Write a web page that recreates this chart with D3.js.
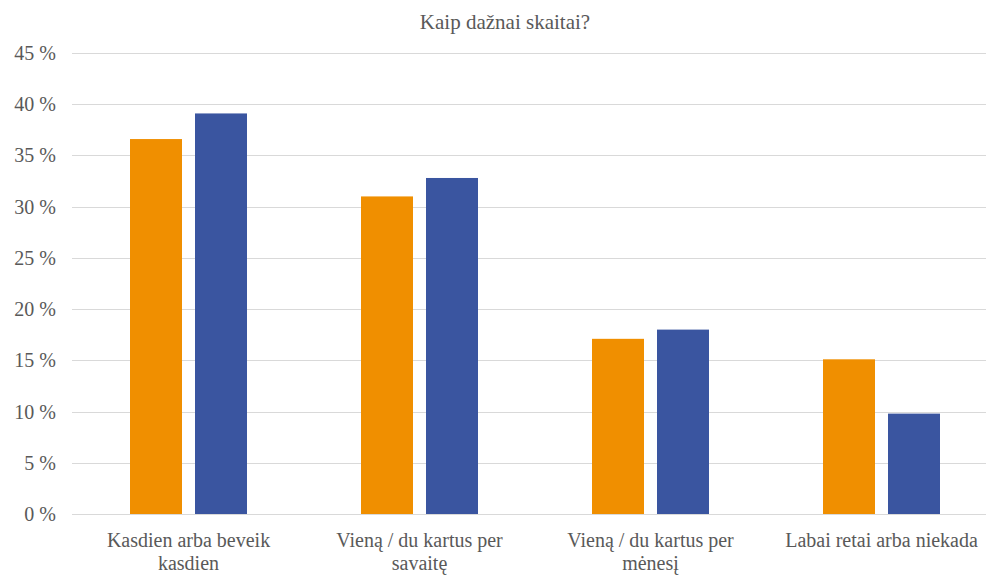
<!DOCTYPE html>
<html>
<head>
<meta charset="utf-8">
<script src="https://cdn.jsdelivr.net/npm/d3@7"></script>
<style>
  body { margin: 0; background: #fff; }
  svg { display: block; }
  text { font-family: "Liberation Serif", "DejaVu Serif", "Times New Roman", serif; }
</style>
</head>
<body>
<div id="chart"></div>
<script>
// data
let categories = [
    ["Kasdien arba beveik", "kasdien"],
    ["Vieną / du kartus per", "savaitę"],
    ["Vieną / du kartus per", "mėnesį"],
    ["Labai retai arba niekada"]
];
let seriesA = [36.6, 31.0, 17.1, 15.1];
let seriesB = [39.1, 32.8, 18.0, 9.8];
let yTicks = [0, 5, 10, 15, 20, 25, 30, 35, 40, 45];

let margin = { top: 53, right: -11, bottom: 61, left: 73 },
    width = 986 - margin.left - margin.right,
    height = 575 - margin.top - margin.bottom;

let svg = d3.select("#chart")
    .append("svg")
    .attr("width", 986)
    .attr("height", 575);

svg.append("text")
    .attr("x", 505)
    .attr("y", 29)
    .attr("text-anchor", "middle")
    .attr("fill", "#595959")
    .style("font-size", "21px")
    .text("Kaip dažnai skaitai?");

let g = svg.append("g")
    .attr("transform", "translate(" + margin.left + "," + margin.top + ")");

let x = d3.scaleBand()
    .domain(d3.range(categories.length))
    .range([0, width]);

let sub = d3.scaleBand()
    .domain(["a", "b"])
    .range([0, 117])
    .paddingInner(0.2);

let y = d3.scaleLinear()
    .domain([0, 45])
    .range([height, 0]);

// grid
g.selectAll(".grid")
    .data(yTicks)
    .enter()
    .append("line")
    .attr("x1", -1)
    .attr("x2", width)
    .attr("y1", function (d) { return Math.round(y(d)) + 0.5; })
    .attr("y2", function (d) { return Math.round(y(d)) + 0.5; })
    .attr("stroke", "#d9d9d9")
    .attr("stroke-width", 1);

// y labels
g.selectAll(".ylab")
    .data(yTicks)
    .enter()
    .append("text")
    .attr("x", -17)
    .attr("y", function (d) { return y(d); })
    .attr("dy", "0.35em")
    .attr("text-anchor", "end")
    .attr("fill", "#595959")
    .style("font-size", "20px")
    .text(function (d) { return d + "\u00a0%"; });

let off = (x.bandwidth() - 117) / 2;
let colors = { a: "#F08F00", b: "#3A55A0" };

[["a", seriesA], ["b", seriesB]].forEach(function (s) {
    g.selectAll(".bar-" + s[0])
        .data(s[1])
        .enter()
        .append("rect")
        .attr("x", function (d, i) { return x(i) + off + sub(s[0]); })
        .attr("y", function (d) { return y(d); })
        .attr("width", sub.bandwidth())
        .attr("height", function (d) { return height - y(d); })
        .attr("fill", colors[s[0]]);
});

// category labels
let lab = g.selectAll(".xlab")
    .data(categories)
    .enter()
    .append("text")
    .attr("text-anchor", "middle")
    .attr("fill", "#595959")
    .style("font-size", "20px")
    .attr("transform", function (d, i) {
        return "translate(" + (x(i) + x.bandwidth() / 2) + "," + (height + 33) + ")";
    });

lab.selectAll("tspan")
    .data(function (d) { return d; })
    .enter()
    .append("tspan")
    .attr("x", 0)
    .attr("dy", function (d, i) { return i === 0 ? 0 : 23; })
    .text(function (d) { return d; });
</script>
</body>
</html>
